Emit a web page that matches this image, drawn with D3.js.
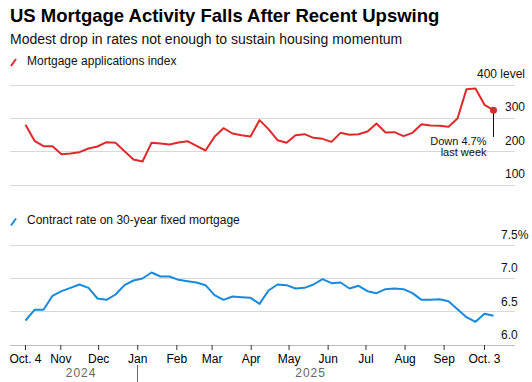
<!DOCTYPE html>
<html><head><meta charset="utf-8">
<script src="https://cdn.jsdelivr.net/npm/d3@7"></script>
<style>
body{margin:0;background:#fff}
svg{display:block;font-family:"Liberation Sans",Arial,Helvetica,sans-serif}
</style>
</head><body><svg id="c" width="532" height="382"></svg>
<script>
// ---------- data ----------
const weeks = [
 "2024-10-04","2024-10-11","2024-10-18","2024-10-25","2024-11-01","2024-11-08","2024-11-15","2024-11-22","2024-11-29",
 "2024-12-06","2024-12-13","2024-12-20","2024-12-27","2025-01-03","2025-01-10","2025-01-17","2025-01-24","2025-01-31",
 "2025-02-07","2025-02-14","2025-02-21","2025-02-28","2025-03-07","2025-03-14","2025-03-21","2025-03-28",
 "2025-04-04","2025-04-11","2025-04-18","2025-04-25","2025-05-02","2025-05-09","2025-05-16","2025-05-23","2025-05-30",
 "2025-06-06","2025-06-13","2025-06-20","2025-06-27","2025-07-04","2025-07-11","2025-07-18","2025-07-25",
 "2025-08-01","2025-08-08","2025-08-15","2025-08-22","2025-08-29","2025-09-05","2025-09-12","2025-09-19","2025-09-26","2025-10-03"
];
const applications = [
 279,231,215,215,191,193,197,208,214,227,225,200,175,169,225,223,220,226,230,216,202,243,269,253,248,244,
 293,266,233,225,248,251,240,237,228,255,249,251,259,283,256,257,245,255,281,277,276,273,298,386,388,339,323
];
const rates = [
 6.36,6.52,6.52,6.73,6.80,6.85,6.90,6.85,6.69,6.67,6.75,6.89,6.96,6.99,7.08,7.02,7.02,6.97,6.95,6.93,6.89,6.74,6.67,6.72,6.71,6.70,
 6.61,6.81,6.90,6.89,6.84,6.85,6.90,6.98,6.92,6.93,6.84,6.88,6.80,6.77,6.83,6.84,6.83,6.77,6.67,6.67,6.68,6.65,6.53,6.41,6.34,6.46,6.43
];
const appTicks = [100, 200, 300, 400];
const rateTicks = [6.5, 7.0, 7.5];
const rateBase = 6.0;
const monthTicks = ["2024-10-04","2024-11-01","2024-12-01","2025-01-01","2025-02-01","2025-03-01","2025-04-01",
 "2025-05-01","2025-06-01","2025-07-01","2025-08-01","2025-09-01","2025-10-03"];
const monthLabels = ["Oct. 4","Nov","Dec","Jan","Feb","Mar","Apr","May","Jun","Jul","Aug","Sep","Oct. 3"];
const yearLabels = ["2024","2025"];
const yearBounds = ["2024-10-04","2025-01-01","2025-10-03"];

const title = "US Mortgage Activity Falls After Recent Upswing";
const subtitle = "Modest drop in rates not enough to sustain housing momentum";
const legendApps = "Mortgage applications index";
const legendRate = "Contract rate on 30-year fixed mortgage";
const annotation = ["Down 4.7%", "last week"];

// ---------- setup ----------
const parse = d3.utcParse("%Y-%m-%d");
const RED = "#de2a2a", BLUE = "#168ade", GRID = "#d8d8d8";
const svg = d3.select("#c");
const L = 10, R = 515;

// data position scale (weekly points) and calendar axis scale
const x = d3.scaleUtc().domain([parse(weeks[0]), parse(weeks[weeks.length-1])]).range([25.5, 493.5]);
const xAxisScale = d3.scaleUtc().domain([parse(monthTicks[0]), parse(monthTicks[monthTicks.length-1])]).range([25, 484]);
const yA = d3.scaleLinear().domain([100, 400]).range([184.5, 84.5]);
const yR = d3.scaleLinear().domain([6.0, 7.5]).range([344.5, 244.5]);

// title
svg.append("text").attr("x", 10).attr("y", 22).attr("font-size", 18.5).attr("font-weight", "bold")
  .attr("fill", "#000").text(title);
svg.append("text").attr("x", 10).attr("y", 43.5).attr("font-size", 14).attr("fill", "#111").text(subtitle);

function legend(y, color, label){
  svg.append("line").attr("x1", 11).attr("y1", y + 1.5).attr("x2", 16).attr("y2", y - 5.5)
    .attr("stroke", color).attr("stroke-width", 2);
  svg.append("text").attr("x", 27).attr("y", y).attr("font-size", 12).attr("fill", "#111").text(label);
}
legend(64.5, RED, legendApps);
legend(224, BLUE, legendRate);

// ---------- top panel ----------
const gTop = svg.append("g");
gTop.selectAll("line.grid").data(appTicks).join("line")
  .attr("x1", L).attr("x2", R)
  .attr("y1", d => Math.round(yA(d)) + 0.5).attr("y2", d => Math.round(yA(d)) + 0.5)
  .attr("stroke", GRID).attr("stroke-width", 1);
gTop.selectAll("text.lab").data(appTicks).join("text")
  .attr("x", 525).attr("y", d => yA(d) - 6.5).attr("text-anchor", "end")
  .attr("font-size", 12).attr("fill", "#111")
  .text(d => d === 400 ? "400 level" : d);

const appData = weeks.map((w, i) => ({ d: parse(w), v: applications[i] }));
gTop.append("path").datum(appData)
  .attr("d", d3.line().x(p => x(p.d)).y(p => yA(p.v)))
  .attr("fill", "none").attr("stroke", RED).attr("stroke-width", 2).attr("stroke-linejoin", "round");

const last = appData[appData.length - 1];
gTop.append("line").attr("x1", x(last.d)).attr("x2", x(last.d))
  .attr("y1", yA(last.v)).attr("y2", 137).attr("stroke", "#111").attr("stroke-width", 1);
gTop.append("circle").attr("cx", x(last.d)).attr("cy", yA(last.v)).attr("r", 3.5).attr("fill", RED);
gTop.append("text").attr("x", 486.5).attr("y", 145).attr("text-anchor", "end").attr("font-size", 11)
  .attr("fill", "#111").text(annotation[0]);
gTop.append("text").attr("x", 486.5).attr("y", 156).attr("text-anchor", "end").attr("font-size", 11)
  .attr("fill", "#111").text(annotation[1]);

// ---------- bottom panel ----------
const gBot = svg.append("g");
gBot.selectAll("line.grid").data(rateTicks).join("line")
  .attr("x1", L).attr("x2", R)
  .attr("y1", d => Math.round(yR(d)) + 0.5).attr("y2", d => Math.round(yR(d)) + 0.5)
  .attr("stroke", GRID).attr("stroke-width", 1);
gBot.selectAll("text.lab").data([rateBase, ...rateTicks]).join("text")
  .attr("x", 501).attr("y", d => yR(d) - 5.5)
  .attr("font-size", 12).attr("fill", "#111")
  .text(d => d === 7.5 ? "7.5%" : d.toFixed(1));

const rateData = weeks.map((w, i) => ({ d: parse(w), v: rates[i] }));
gBot.append("path").datum(rateData)
  .attr("d", d3.line().x(p => x(p.d)).y(p => yR(p.v)))
  .attr("fill", "none").attr("stroke", BLUE).attr("stroke-width", 2).attr("stroke-linejoin", "round");

// ---------- x axis ----------
const baseY = Math.round(yR(rateBase)) + 0.5;
svg.append("line").attr("x1", L).attr("x2", R).attr("y1", baseY).attr("y2", baseY)
  .attr("stroke", "#bdbdbd").attr("stroke-width", 1);
const axis = d3.axisBottom(xAxisScale).tickValues(monthTicks.map(parse))
  .tickFormat((d, i) => monthLabels[i]).tickSize(5).tickPadding(4);
const gAx = svg.append("g").attr("transform", `translate(0,${baseY - 0.5})`).call(axis);
gAx.select(".domain").remove();
gAx.selectAll(".tick line").attr("stroke", "#333");
gAx.selectAll(".tick text").attr("font-size", 12).attr("fill", "#000")
  .attr("font-family", '"Liberation Sans",Arial,sans-serif');

// year labels
const yb = yearBounds.map(parse);
svg.append("line").attr("x1", Math.round(xAxisScale(yb[1])) + 0.5).attr("x2", Math.round(xAxisScale(yb[1])) + 0.5)
  .attr("y1", 365).attr("y2", 382).attr("stroke", "#666").attr("stroke-width", 1);
svg.selectAll("text.year").data(yearLabels).join("text")
  .attr("x", (d, i) => (xAxisScale(yb[i]) + xAxisScale(yb[i + 1])) / 2).attr("y", 376.5)
  .attr("text-anchor", "middle").attr("font-size", 12).attr("fill", "#666")
  .attr("letter-spacing", 1).text(d => d);
</script>
</body></html>
